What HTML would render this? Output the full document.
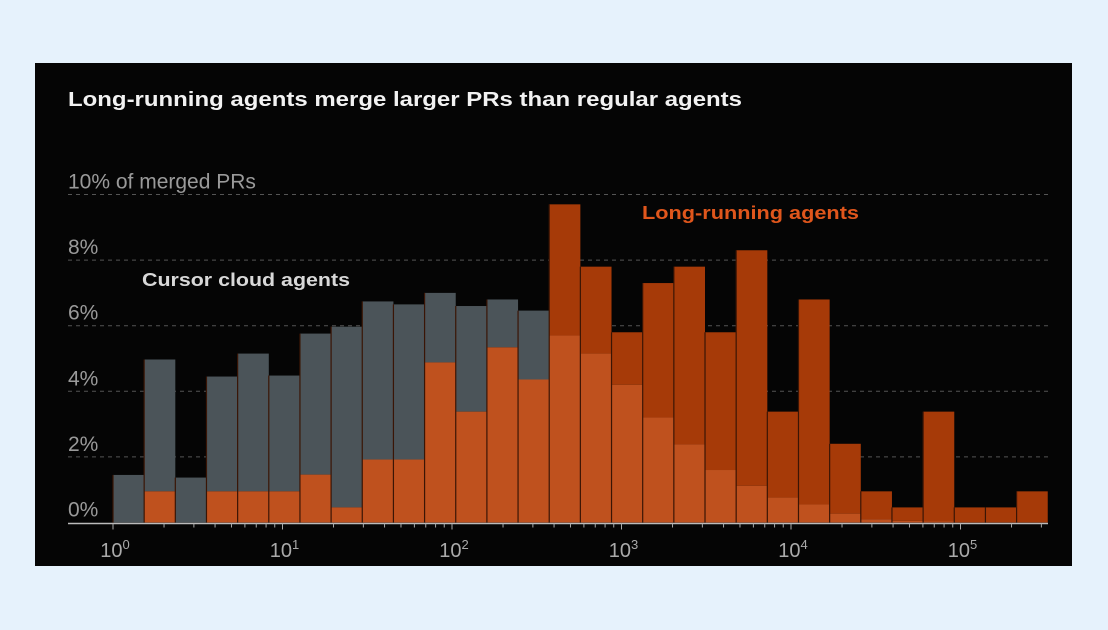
<!DOCTYPE html>
<html><head><meta charset="utf-8"><style>
html,body{margin:0;padding:0;background:#e6f2fc;width:1108px;height:630px;overflow:hidden}
svg{display:block}
text{font-family:"Liberation Sans",sans-serif}
</style></head><body>
<svg id="chart" width="1108" height="630">
<rect x="35" y="63" width="1037" height="503" fill="#050505"/>
<text x="68" y="106" font-size="20" font-weight="bold" fill="#f2f2f2" textLength="674" lengthAdjust="spacingAndGlyphs">Long-running agents merge larger PRs than regular agents</text>
<g id="grid"></g><g id="bars"></g><g id="axis"></g>
<text x="642" y="219" font-size="18" font-weight="bold" fill="#e0561c" textLength="217" lengthAdjust="spacingAndGlyphs">Long-running agents</text>
<text x="142" y="286" font-size="18" font-weight="bold" fill="#d8d8d8" textLength="208" lengthAdjust="spacingAndGlyphs">Cursor cloud agents</text>
</svg>
<script>
const binStartExp = 0;
const binsPerDecade = 5.44;
const cloudValues = [1.45,4.97,1.37,4.45,5.15,4.48,5.76,5.97,6.74,6.65,7.0,6.6,6.8,6.46,5.7,5.15,4.2,3.2,2.38,1.6,1.12,0.76,0.55,0.27,0.1,0.05,0.03,0,0,0];
const longValues = [0,0.95,0,0.95,0.95,0.95,1.46,0.46,1.92,1.92,4.88,3.38,5.34,4.36,9.7,7.8,5.8,7.3,7.8,5.8,8.3,3.38,6.8,2.4,0.95,0.46,3.38,0.46,0.46,0.95];
const yTicks = [0,2,4,6,8,10];
const yTickLabels = ["0%","2%","4%","6%","8%","10% of merged PRs"];
const xTickExps = [0,1,2,3,4,5];

const NS="http://www.w3.org/2000/svg";
const x0=113, decadePx=169.5, yBase=522.5, pctPx=32.8;
const xs=e=>x0+(e-binStartExp)*decadePx;
const ys=v=>yBase-v*pctPx;
function mk(tag,attrs,parent){const el=document.createElementNS(NS,tag);for(const k in attrs)el.setAttribute(k,attrs[k]);parent.appendChild(el);return el;}
const grid=document.getElementById('grid'),bars=document.getElementById('bars'),axis=document.getElementById('axis');
yTicks.forEach((t,i)=>{
  if(t>0){const l=mk('line',{x1:68,x2:1048,y1:ys(t),y2:ys(t),stroke:'#555','stroke-width':1,'stroke-dasharray':'4 4'},grid);
  
  }
  const tx=mk('text',{x:68,y:ys(t)-6,'font-size':21,fill:'#9a9a9a'},grid);
  tx.textContent=yTickLabels[i];
  
  
});
const bw=decadePx/binsPerDecade;
cloudValues.forEach((c,i)=>{
  const o=longValues[i];
  const xl=xs(binStartExp+i/binsPerDecade);
  const lo=Math.min(c,o);
  if(c>o){const r=mk('rect',{x:xl,y:ys(c),width:bw,height:ys(o)-ys(c),fill:'#4b5459'},bars);
    
    }
  if(o>c){const r=mk('rect',{x:xl,y:ys(o),width:bw,height:ys(c)-ys(o),fill:'#a63a08'},bars);
    
    }
  if(lo>0){const r=mk('rect',{x:xl,y:ys(lo),width:bw,height:yBase-ys(lo),fill:'#bf511e'},bars);
    
    }
  if(c>0||o>0){const s=mk('line',{x1:xl,x2:xl,y1:ys(Math.max(c,o)),y2:yBase,stroke:'#3a1505','stroke-width':1.2},bars);
    
    }
});
const ax=mk('line',{x1:68,x2:1048,y1:yBase+1,y2:yBase+1,stroke:'#bbb','stroke-width':1.5},axis);


for(let e=0;e<6;e++){for(let m=1;m<10;m++){const xv=xs(e+Math.log10(m));if(xv>1048)break;
  const t=mk('line',{x1:xv,x2:xv,y1:yBase+1,y2:yBase+(m===1?7:5),stroke:'#aaa','stroke-width':1},axis);
  
  }}
xTickExps.forEach(e=>{
  const t=mk('text',{x:xs(e)+2,y:557,'font-size':20,fill:'#aaa','text-anchor':'middle'},axis);
  
  
  t.textContent='10';
  const s=mk('tspan',{'font-size':13,dy:-8},t);s.textContent=String(e);
});
</script>
</body></html>
